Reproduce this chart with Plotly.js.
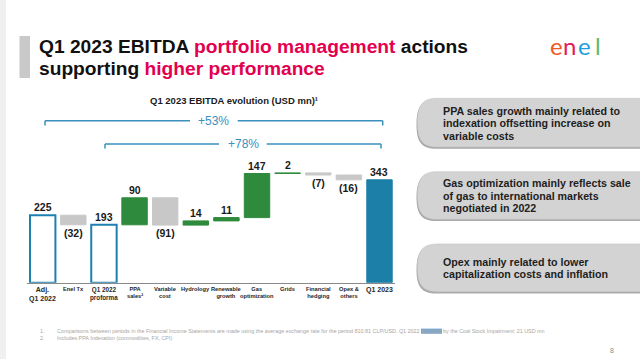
<!DOCTYPE html>
<html>
<head>
<meta charset="utf-8">
<script src="https://cdn.plot.ly/plotly-3.0.1.min.js"></script>
<style>html,body{margin:0;padding:0;background:#fff;}#chart{width:640px;height:359px;}</style>
</head>
<body>
<div id="chart"></div>
<script>
// ---- data ----
const categories = ["Adj.<br>Q1 2022", "Enel Tx", "Q1 2022<br>proforma", "PPA<br>sales²", "Variable<br>cost", "Hydrology", "Renewable<br>growth", "Gas<br>optimization", "Grids", "Financial<br>hedging", "Opex &<br>others", "Q1 2023"];
const values = [225, -32, 193, 90, -91, 14, 11, 147, 2, -7, -16, 343];
const measures = ["total", "relative", "total", "relative", "relative", "relative", "relative", "relative", "relative", "relative", "relative", "total"];
const valueLabels = ["225", "(32)", "193", "90", "(91)", "14", "11", "147", "2", "(7)", "(16)", "343"];
const growthLabels = ["+53%", "+78%"];
const chartTitle = "Q1 2023 EBITDA evolution (USD mn)¹";
const boxTexts = [
  ["PPA sales growth mainly related to", "indexation offsetting increase on", "variable costs"],
  ["Gas optimization mainly reflects sale", "of gas to international markets", "negotiated in 2022"],
  ["Opex mainly related to lower", "capitalization costs and inflation"]
];
const footnotes = [
  "Comparisons between periods in the Financial Income Statements are made using the average exchange rate for the period 810.81 CLP/USD. Q1 2022 adjusted by the Coal Stock Impairment: 21 USD mn",
  "Includes PPA Indexation (commodities, FX, CPI)"
];

// ---- helpers (pixel -> paper) ----
const W = 640, H = 359;
const fx = p => p / W;
const fy = p => 1 - p / H;
const FONT = "Liberation Sans, Arial, sans-serif";

// ---- waterfall geometry computed from data ----
const xs = categories.map((c, i) => i);
const bases = [], heights = [], tops = [], bottoms = [];
let run = 0;
values.forEach((v, i) => {
  if (measures[i] === "total") { bases.push(0); heights.push(v); run = v; }
  else { bases.push(run); heights.push(v); run += v; }
  tops.push(Math.max(bases[i], bases[i] + heights[i]));
  bottoms.push(Math.min(bases[i], bases[i] + heights[i]));
});
const GREEN = "#2e8a3c", GREY = "#c8c8c8", BLUE = "#1e80b0", BLUEFILL = "#1b7fa8";
const fillColors = [], lineColors = [], lineWidths = [];
values.forEach((v, i) => {
  if (measures[i] === "total") {
    if (i === values.length - 1) { fillColors.push(BLUEFILL); lineColors.push(BLUEFILL); lineWidths.push(1); }
    else { fillColors.push("#ffffff"); lineColors.push(BLUE); lineWidths.push(2); }
  } else if (v >= 0) { fillColors.push(GREEN); lineColors.push(GREEN); lineWidths.push(1); }
  else { fillColors.push(GREY); lineColors.push(GREY); lineWidths.push(1); }
});

const trace = {
  type: "bar", x: xs, y: heights, base: bases, width: 0.83,
  marker: { color: fillColors, line: { color: lineColors, width: lineWidths } },
  hoverinfo: "skip", showlegend: false
};

const annotations = [];
// value labels
values.forEach((v, i) => {
  const pos = measures[i] === "total" || v >= 0;
  annotations.push({
    x: i, y: pos ? tops[i] : bottoms[i], xref: "x", yref: "y",
    text: "<b>" + valueLabels[i] + "</b>", showarrow: false,
    yanchor: pos ? "bottom" : "top", xanchor: "center",
    font: { family: FONT, size: 10.5, color: "#1a1a1a" }
  });
});
// category labels
categories.forEach((c, i) => {
  let size = 5.7;
  if (i === 0 || i === categories.length - 1) size = 7;
  else if (i === 2) size = 6.3;
  annotations.push({
    x: i, y: 0, xref: "x", yref: "y", text: "<b>" + c + "</b>", showarrow: false,
    yanchor: "top", xanchor: "center", yshift: -1,
    font: { family: FONT, size: size, color: "#262626" }
  });
});
// chart title
annotations.push({ x: fx(234), y: fy(100), xref: "paper", yref: "paper", text: "<b>" + chartTitle + "</b>",
  showarrow: false, xanchor: "center", yanchor: "middle", font: { family: FONT, size: 9.5, color: "#1a1a1a" } });
// growth labels
const BR = "#3a8fbd";
annotations.push({ x: fx(213.5), y: fy(120.7), xref: "paper", yref: "paper", text: growthLabels[0], showarrow: false,
  xanchor: "center", yanchor: "middle", font: { family: FONT, size: 12, color: BR } });
annotations.push({ x: fx(243), y: fy(144), xref: "paper", yref: "paper", text: growthLabels[1], showarrow: false,
  xanchor: "center", yanchor: "middle", font: { family: FONT, size: 12, color: BR } });
// main title
const PINK = "#e3004f";
annotations.push({ x: fx(37), y: fy(46), xref: "paper", yref: "paper", showarrow: false, xanchor: "left", yanchor: "middle",
  text: "<b>Q1 2023 EBITDA <span style='color:" + PINK + "'>portfolio management</span> actions</b>",
  font: { family: FONT, size: 19.2, color: "#111111" } });
annotations.push({ x: fx(37), y: fy(68), xref: "paper", yref: "paper", showarrow: false, xanchor: "left", yanchor: "middle",
  text: "<b>supporting <span style='color:" + PINK + "'>higher performance</span></b>",
  font: { family: FONT, size: 19.2, color: "#111111" } });
// logo
const logoLetters = [["e", "#f05a28", 556], ["n", "#e5195e", 569.5], ["e", "#1ea0dc", 584], ["l", "#5dbb6a", 598]];
logoLetters.forEach(l => annotations.push({ x: fx(l[2]), y: fy(45), xref: "paper", yref: "paper", showarrow: false,
  xanchor: "center", yanchor: "middle", text: l[0], font: { family: "Lato, sans-serif", size: 24, weight: 400, color: l[1] } }));
// box texts
const boxLineY = [[110.7, 123.3, 135.7], [183.3, 196, 208.3], [262.3, 274.3]];
boxTexts.forEach((lines, b) => lines.forEach((t, k) => annotations.push({
  x: fx(440.5), y: fy(boxLineY[b][k]), xref: "paper", yref: "paper", showarrow: false, xanchor: "left", yanchor: "middle",
  text: "<b>" + t + "</b>", font: { family: FONT, size: 10.7, color: "#1e1e1e" } })));
// footnotes
const fnY = [331, 338];
footnotes.forEach((t, k) => {
  annotations.push({ x: fx(38), y: fy(fnY[k]), xref: "paper", yref: "paper", showarrow: false, xanchor: "left", yanchor: "middle",
    text: (k + 1) + ".", font: { family: FONT, size: 5.4, color: "#a6a6a6" } });
  annotations.push({ x: fx(55), y: fy(fnY[k]), xref: "paper", yref: "paper", showarrow: false, xanchor: "left", yanchor: "middle",
    text: t, font: { family: FONT, size: 5.4, color: "#a6a6a6" } });
});
annotations.push({ x: fx(612), y: fy(350), xref: "paper", yref: "paper", showarrow: false, xanchor: "center", yanchor: "middle",
  text: "8", font: { family: FONT, size: 7, color: "#8c8c8c" } });

// ---- shapes ----
const shapes = [];
const P = (x, y) => fx(x) + "," + fy(y);
// left page shadow strip
shapes.push({ type: "rect", xref: "paper", yref: "paper", x0: 0, x1: fx(6), y0: 0, y1: 1, line: { width: 0 }, fillcolor: "#f0f0f0", layer: "below" });
// title accent bar
shapes.push({ type: "rect", xref: "paper", yref: "paper", x0: fx(19.5), x1: fx(30), y0: fy(78), y1: fy(36), line: { width: 0 }, fillcolor: "#c9c9c9" });
// brackets
function hLine(x0, x1, y) { shapes.push({ type: "line", xref: "paper", yref: "paper", x0: fx(x0), x1: fx(x1), y0: fy(y), y1: fy(y), line: { color: BR, width: 1.5 } }); }
function vLine(x, y0, y1) { shapes.push({ type: "line", xref: "paper", yref: "paper", x0: fx(x), x1: fx(x), y0: fy(y0), y1: fy(y1), line: { color: BR, width: 1.5 } }); }
hLine(45, 190, 120.7); hLine(237.7, 382.7, 120.7); vLine(45, 120.7, 125.5); vLine(382.7, 120.7, 125.5);
hLine(105, 219, 144); hLine(266.7, 381, 144); vLine(105, 144, 148.5); vLine(381, 144, 148.5);
// right rounded boxes
const boxY = [[98.3, 147], [171.7, 219.3], [244, 291.7]];
boxY.forEach(b => {
  const [t, btm] = b, L = 417.5, r = 20;
  const path = (dx, dy) => "M " + P(L + r + dx, t + dy) + " L " + P(642, t + dy) + " L " + P(642, btm + dy) + " L " + P(L + r + dx, btm + dy) +
    " C " + P(L + dx + 4, btm + dy) + " " + P(L + dx, btm + dy - 8) + " " + P(L + dx, (t + btm) / 2 + dy) +
    " C " + P(L + dx, t + dy + 8) + " " + P(L + dx + 4, t + dy) + " " + P(L + r + dx, t + dy) + " Z";
  shapes.push({ type: "path", xref: "paper", yref: "paper", path: path(-1, 1.8), fillcolor: "#a9a9a9", line: { width: 0 } });
  shapes.push({ type: "path", xref: "paper", yref: "paper", path: path(0, 0), fillcolor: "#d3d3d3", line: { color: "#c4c4c4", width: 0.6 } });
});
// footnote highlight
shapes.push({ type: "rect", xref: "paper", yref: "paper", x0: fx(421), x1: fx(442), y0: fy(333.8), y1: fy(328.6), fillcolor: "#7aa6d2", line: { width: 0 }, layer: "below" });

const layout = {
  width: W, height: H, margin: { l: 0, r: 0, t: 0, b: 0 }, autosize: false,
  paper_bgcolor: "#ffffff", plot_bgcolor: "rgba(0,0,0,0)", showlegend: false,
  xaxis: { domain: [fx(27.4), fx(394.8)], range: [-0.5, 11.5], showticklabels: false, showgrid: false, zeroline: false,
    showline: true, linecolor: "#8a8a8a", linewidth: 1, ticks: "", fixedrange: true },
  yaxis: { domain: [fy(282.7), fy(162.7)], range: [0, 400], visible: false, fixedrange: true },
  bargap: 0.17, annotations: annotations, shapes: shapes, hovermode: false
};
Plotly.newPlot("chart", [trace], layout, { displayModeBar: false, staticPlot: true });
</script>
</body>
</html>
